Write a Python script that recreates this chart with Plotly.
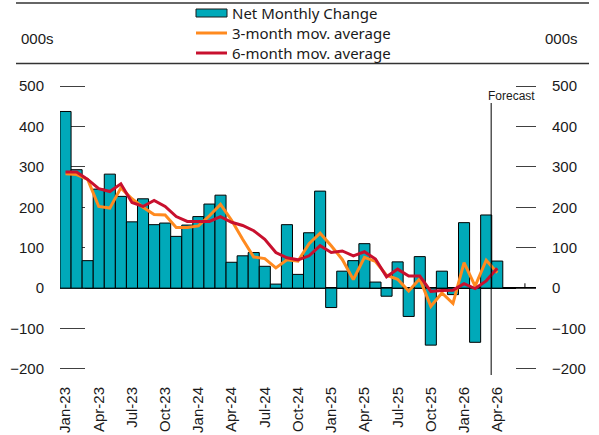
import plotly.graph_objects as go
import pandas as pd

# ---------------- data ----------------
months = [d.strftime('%b-%y') for d in pd.date_range('2023-01-01', '2026-07-01', freq='MS')]
tick_labels = ['Jan-23', 'Apr-23', 'Jul-23', 'Oct-23', 'Jan-24', 'Apr-24', 'Jul-24',
               'Oct-24', 'Jan-25', 'Apr-25', 'Jul-25', 'Oct-25', 'Jan-26', 'Apr-26']
y_ticks = [-200, -100, 0, 100, 200, 300, 400, 500]

net_change = [437, 293, 68, 245, 282, 227, 164, 221, 157, 161,
              128, 156, 177, 208, 230, 64, 80, 88, 54, 10,
              157, 34, 137, 240, -48, 42, 68, 110, 15, -20,
              65, -70, 78, -141, 42, -16, 162, -134, 181, 67]
ma3 = [283, 281, 269, 202, 198, 248, 221, 200, 182, 181,
       150, 150, 154, 179, 207, 168, 121, 77, 73, 50,
       70, 67, 110, 136, 105, 71, 21, 76, 66, 32,
       22, -7, 23, -45, -12, -38, 63, 5, 69, 38]
ma6 = [287, 287, 269, 246, 239, 258, 212, 202, 217, 202,
       177, 165, 165, 165, 177, 163, 155, 142, 121, 88,
       75, 70, 80, 105, 88, 92, 80, 90, 72, 28,
       47, 30, 30, -8, -6, -5, 11, -1, 18, 49]

n = len(net_change)
forecast_x = 38.45

# ---------------- styles ----------------
TEAL = '#00A9B9'
ORANGE = '#FF8A1F'
RED = '#C8102E'
FONT = 'Liberation Sans, Arial, sans-serif'
LEG_FONT = 'Noto Sans, Liberation Sans, sans-serif'

W, H = 599, 435
L, R, T, B = 60, 63, 85, 65
PW, PH = W - L - R, H - T - B
Y_RANGE = [-202.5, 502.5]


def px(xp):
    return (xp - L) / PW


def py(yp):
    return (H - B - yp) / PH


fig = go.Figure()
fig.add_trace(go.Bar(x=months[:n], y=net_change, name='Net Monthly Change',
                     marker=dict(color=TEAL, line=dict(color='black', width=1))))
fig.add_trace(go.Scatter(x=months[:n], y=ma3, name='3-month mov. average', mode='lines',
                         line=dict(color=ORANGE, width=3)))
fig.add_trace(go.Scatter(x=months[:n], y=ma6, name='6-month mov. average', mode='lines',
                         line=dict(color=RED, width=3)))
# invisible trace so the right-hand axis draws its ticks
fig.add_trace(go.Scatter(x=months[:n], y=ma6, yaxis='y2', mode='lines', opacity=0,
                         hoverinfo='skip', showlegend=False, line=dict(width=0)))

axis_font = dict(family=FONT, size=15, color='#1a1a1a')

fig.update_layout(
    width=W, height=H, autosize=False,
    margin=dict(l=L, r=R, t=T, b=B, pad=0, autoexpand=False),
    paper_bgcolor='white', plot_bgcolor='white',
    showlegend=False, bargap=0, hovermode=False,
    xaxis=dict(type='category', categoryorder='array', categoryarray=months,
               range=[-0.5, len(months) - 0.5], tickvals=tick_labels, ticktext=tick_labels,
               tickangle=-90, ticks='', showline=False, showgrid=False, zeroline=False,
               tickfont=axis_font, ticklabelstandoff=13, automargin=False),
    yaxis=dict(range=Y_RANGE, tickvals=y_ticks, ticks='inside', ticklen=25,
               tickcolor='#404040', tickwidth=1, showgrid=False, showline=False,
               zeroline=True, zerolinecolor='black', zerolinewidth=1.5, automargin=False,
               layer='below traces', tickfont=axis_font, ticklabelstandoff=15),
    yaxis2=dict(range=Y_RANGE, tickvals=y_ticks, ticks='inside', ticklen=20,
                tickcolor='#404040', tickwidth=1, showgrid=False, showline=False,
                zeroline=False, overlaying='y', side='right', anchor='x', automargin=False,
                layer='below traces', tickfont=axis_font, ticklabelstandoff=15),
)

shapes = []
# frame rules around header
for yp in (3, 63.5):
    shapes.append(dict(type='line', xref='paper', yref='paper', x0=px(16), x1=px(589),
                       y0=py(yp), y1=py(yp), line=dict(color='#333333', width=1.5)))
# forecast line
shapes.append(dict(type='line', xref='x', yref='paper', x0=forecast_x, x1=forecast_x,
                   y0=py(375), y1=py(103), line=dict(color='black', width=1)))
# small tick on zero line
shapes.append(dict(type='line', xref='x', yref='y', x0=41.5, x1=41.5, y0=0, y1=12,
                   line=dict(color='black', width=1)))
# legend
shapes.append(dict(type='rect', xref='paper', yref='paper', x0=px(196), x1=px(227),
                   y0=py(17), y1=py(9), fillcolor=TEAL, line=dict(color='#1a1a1a', width=1)))
shapes.append(dict(type='line', xref='paper', yref='paper', x0=px(196), x1=px(227),
                   y0=py(33), y1=py(33), line=dict(color=ORANGE, width=3)))
shapes.append(dict(type='line', xref='paper', yref='paper', x0=px(196), x1=px(227),
                   y0=py(53), y1=py(53), line=dict(color=RED, width=3)))
fig.update_layout(shapes=shapes)

leg_font = dict(family=LEG_FONT, size=15, color='#1a1a1a')
ann = []
for txt, yp in (('Net Monthly Change', 13), ('3-month mov. average', 33), ('6-month mov. average', 53)):
    ann.append(dict(text=txt, xref='paper', yref='paper', x=px(230), y=py(yp),
                    xanchor='left', yanchor='middle', showarrow=False, font=leg_font))
ann.append(dict(text='000s', xref='paper', yref='paper', x=px(37), y=py(39),
                xanchor='center', yanchor='middle', showarrow=False, font=axis_font))
ann.append(dict(text='000s', xref='paper', yref='paper', x=px(561.5), y=py(39),
                xanchor='center', yanchor='middle', showarrow=False, font=axis_font))
ann.append(dict(text='Forecast', xref='paper', yref='paper', x=px(486), y=py(96),
                xanchor='left', yanchor='middle', showarrow=False,
                font=dict(family=FONT, size=12, color='#1a1a1a')))
fig.update_layout(annotations=ann)

fig.write_html('out.html', config={'displayModeBar': False, 'staticPlot': True},
               post_script="document.body.style.margin='0';document.body.style.overflow='hidden';")
